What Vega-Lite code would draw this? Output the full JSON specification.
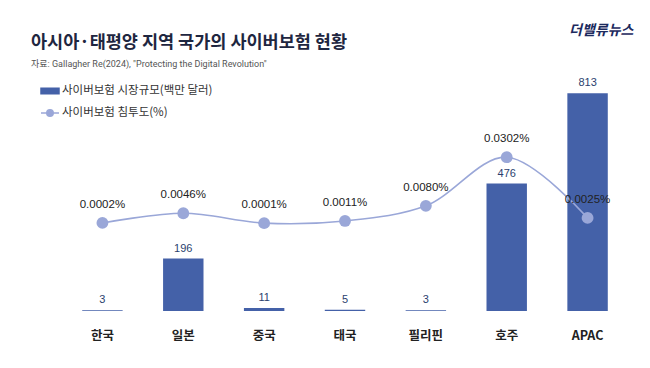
{
  "$schema": "https://vega.github.io/schema/vega-lite/v6.json",
  "width": 566,
  "height": 241,
  "autosize": "none",
  "padding": {"left": 62, "top": 70, "right": 22, "bottom": 57},
  "background": "white",
  "config": {"view": {"stroke": null}},
  "title": {
    "text": "아시아·태평양 지역 국가의 사이버보험 현황",
    "subtitle": "자료: Gallagher Re(2024), \"Protecting the Digital Revolution\"",
    "anchor": "start",
    "frame": "group",
    "dx": -31,
    "dy": 50,
    "font": "Noto Sans CJK KR",
    "fontSize": 17.5,
    "fontWeight": "bold",
    "color": "#1e2640",
    "subtitleFont": "Roboto, Noto Sans CJK KR",
    "subtitleFontSize": 9,
    "subtitleColor": "#555555",
    "subtitlePadding": 9,
    "offset": 4
  },
  "data": {
    "values": [
      {"country": "한국", "size": 3, "rate": 0.0002},
      {"country": "일본", "size": 196, "rate": 0.0046},
      {"country": "중국", "size": 11, "rate": 0.0001},
      {"country": "태국", "size": 5, "rate": 0.0011},
      {"country": "필리핀", "size": 3, "rate": 0.0080},
      {"country": "호주", "size": 476, "rate": 0.0302},
      {"country": "APAC", "size": 813, "rate": 0.0025}
    ]
  },
  "transform": [
    {"calculate": "format(datum.rate, '.4f') + '%'", "as": "rateLabel"}
  ],
  "encoding": {
    "x": {
      "field": "country",
      "type": "nominal",
      "sort": null,
      "scale": {"paddingInner": 0.5, "paddingOuter": 0.25},
      "axis": {
        "title": null,
        "domain": false,
        "ticks": false,
        "labelAngle": 0,
        "labelPadding": 18,
        "labelFont": "Noto Sans CJK KR",
        "labelFontSize": 12.5,
        "labelFontWeight": "bold",
        "labelColor": "#222222"
      }
    }
  },
  "layer": [
    {
      "layer": [
        {
          "mark": {"type": "bar"},
          "encoding": {
            "y": {
              "field": "size",
              "type": "quantitative",
              "scale": {"domain": [0, 894.7]},
              "axis": {
                "title": "더밸류뉴스",
                "titleAngle": 0,
                "titleX": 571,
                "titleY": -40,
                "titleAlign": "right",
                "titleBaseline": "middle",
                "titleFont": "Noto Sans CJK KR",
                "titleFontSize": 14,
                "titleFontWeight": "bold",
                "titleFontStyle": "italic",
                "titleColor": "#1c2a5e",
                "labels": false,
                "ticks": false,
                "domain": false,
                "grid": false
              }
            },
            "color": {
              "datum": "사이버보험 시장규모(백만 달러)",
              "scale": {
                "domain": ["사이버보험 시장규모(백만 달러)", "사이버보험 침투도(%)"],
                "range": ["#4461a8", "#9aa7d8"]
              },
              "legend": {
                "title": null,
                "orient": "none",
                "legendX": -22,
                "legendY": 11,
                "padding": 0,
                "rowPadding": 6,
                "symbolSize": 324,
                "labelOffset": 2,
                "labelFont": "Noto Sans CJK KR",
                "labelFontSize": 11.5,
                "labelColor": "#333333",
                "labelLimit": 300,
                "encode": {
                  "symbols": {
                    "update": {
                      "shape": {"signal": "datum.value === '사이버보험 시장규모(백만 달러)' ? 'M-1,-0.3H1V0.3H-1Z' : 'M-1,0H1M0.36,0A0.36,0.36,0,1,1,-0.36,0A0.36,0.36,0,1,1,0.36,0Z'"},
                      "fill": {"signal": "datum.value === '사이버보험 시장규모(백만 달러)' ? '#4461a8' : '#9aa7d8'"},
                      "stroke": {"signal": "datum.value === '사이버보험 시장규모(백만 달러)' ? '#4461a8' : '#9aa7d8'"},
                      "strokeWidth": {"value": 1.5},
                      "opacity": {"value": 1}
                    }
                  }
                }
              }
            }
          }
        },
        {
          "mark": {"type": "text", "baseline": "bottom", "dy": -5, "font": "Liberation Sans", "fontSize": 11, "color": "#2b3f6e"},
          "encoding": {
            "y": {"field": "size", "type": "quantitative"},
            "text": {"field": "size", "type": "quantitative"}
          }
        }
      ]
    },
    {
      "layer": [
        {
          "mark": {"type": "line", "interpolate": "catmull-rom", "strokeWidth": 1.6},
          "encoding": {
            "y": {"field": "rate", "type": "quantitative", "scale": {"domain": [-0.0393, 0.0698]}, "axis": null},
            "color": {"datum": "사이버보험 침투도(%)"}
          }
        },
        {
          "mark": {"type": "point", "filled": true, "opacity": 1, "size": 140},
          "encoding": {
            "y": {"field": "rate", "type": "quantitative"},
            "color": {"datum": "사이버보험 침투도(%)"}
          }
        },
        {
          "mark": {"type": "text", "baseline": "middle", "dy": -18, "font": "Liberation Sans", "fontSize": 11.5, "color": "#222222"},
          "encoding": {
            "y": {"field": "rate", "type": "quantitative"},
            "text": {"field": "rateLabel", "type": "nominal"}
          }
        }
      ]
    }
  ],
  "resolve": {"scale": {"y": "independent"}}
}
